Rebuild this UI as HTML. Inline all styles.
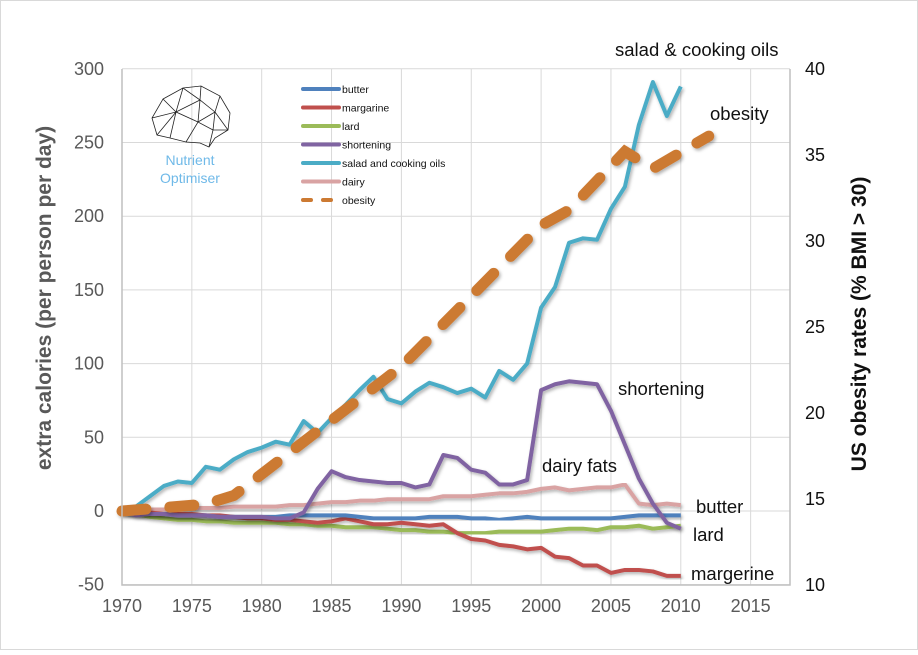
<!DOCTYPE html>
<html><head><meta charset="utf-8"><style>
body{margin:0;background:#fff;}
svg text{font-family:"Liberation Sans",sans-serif;}
</style></head><body>
<svg id="chart" width="918" height="650" xmlns="http://www.w3.org/2000/svg">
<defs><filter id="sh" x="-5%" y="-5%" width="110%" height="110%"><feDropShadow dx="1.5" dy="2" stdDeviation="1.5" flood-color="#000" flood-opacity="0.3"/></filter></defs>
<rect x="0.5" y="0.5" width="917" height="649" fill="#fff" stroke="#d9d9d9"/>
<g id="grid"></g><g id="series"></g><g id="axes"></g>
<g stroke="#222" stroke-width="0.8" fill="none">
<path d="M163,99 L183,88 L201,86 L220,96 L230,113 L228,130 L215,138 L209,147 L200,143 L186,142 L170,138 L157,135 L152,118 Z M163,99 L176,112 L183,88 L200,100 L201,86 M176,112 L200,100 L215,112 L220,96 M215,112 L228,130 M200,100 L198,122 L176,112 L170,138 M198,122 L215,112 L213,130 L198,122 L186,142 M213,130 L228,130 M152,118 L176,112 L157,135 M209,147 L213,130"/>
</g>
<text x="190" y="165" font-size="14" fill="#6fb9e8" text-anchor="middle">Nutrient</text>
<text x="190" y="183" font-size="14" fill="#6fb9e8" text-anchor="middle">Optimiser</text>
<g id="legend"></g>
<g font-size="18.5" fill="#111">
<text x="615" y="56">salad &amp; cooking oils</text>
<text x="710" y="120">obesity</text>
<text x="618" y="395">shortening</text>
<text x="542" y="472">dairy fats</text>
<text x="696" y="513">butter</text>
<text x="693" y="541">lard</text>
<text x="691" y="580">margerine</text>
</g>
<text transform="translate(51,298) rotate(-90)" font-size="21" font-weight="bold" fill="#595959" text-anchor="middle">extra calories (per person per day)</text>
<text transform="translate(866,324) rotate(-90)" font-size="21" font-weight="bold" fill="#111" text-anchor="middle">US obesity rates (% BMI &gt; 30)</text>
</svg>
<script>
const years=[];for(let y=1970;y<=2010;y++)years.push(y);
const butter=[0,-1,-2,-2,-3,-3,-3,-4,-4,-4,-4,-4,-3,-3,-3,-3,-3,-4,-5,-5,-5,-5,-4,-4,-4,-5,-5,-6,-5,-4,-5,-5,-5,-5,-5,-5,-4,-3,-3,-3,-3];
const margarine=[0,-1,-1,-2,-2,-2,-3,-3,-4,-5,-5,-6,-6,-7,-8,-7,-5,-7,-9,-9,-8,-9,-10,-9,-15,-19,-20,-23,-24,-26,-25,-31,-32,-37,-37,-42,-40,-40,-41,-44,-44];
const lard=[0,-2,-4,-5,-6,-6,-7,-7,-8,-8,-8,-8,-9,-9,-10,-10,-11,-11,-11,-12,-13,-13,-14,-14,-15,-15,-15,-14,-14,-14,-14,-13,-12,-12,-13,-11,-11,-10,-12,-11,-10];
const shortening=[0,-3,-2,-2,-3,-3,-3,-4,-4,-4,-4,-5,-5,-1,15,27,23,21,20,19,19,16,18,38,36,28,26,18,18,21,82,86,88,87,86,68,45,22,5,-8,-12];
const salad=[0,3,10,17,20,19,30,28,35,40,43,47,45,61,53,63,72,82,91,76,73,81,87,84,80,83,77,95,89,100,138,152,182,185,184,205,220,262,291,268,288];
const dairy=[0,0,1,1,1,2,2,2,3,3,3,3,4,4,5,6,6,7,7,8,8,8,8,10,10,10,11,12,12,13,15,16,14,15,16,16,18,5,4,5,4];
const obYears=[1970,1976,1978,1990,2000,2002,2006,2008,2012];
const obesity=[14.3,14.7,15.2,22.7,30.9,31.8,35.2,34.2,36.1];
const xTicks=[1970,1975,1980,1985,1990,1995,2000,2005,2010,2015];
const yTicks=[-50,0,50,100,150,200,250,300];
const y2Ticks=[10,15,20,25,30,35,40];
const X=y=>122+(y-1970)*13.97, Y=v=>511-v*1.474, Y2=v=>585-(v-10)*17.2;
const NS="http://www.w3.org/2000/svg";
function mk(t,p,a){const e=document.createElementNS(NS,t);for(const k in a)e.setAttribute(k,a[k]);p.appendChild(e);return e;}
const g=document.getElementById('grid'),ax=document.getElementById('axes'),s=document.getElementById('series'),lg=document.getElementById('legend');
xTicks.forEach(t=>{const l=mk('line',g,{x1:X(t),x2:X(t),y1:69,y2:585,stroke:'#d9d9d9'});


const tx=mk('text',ax,{x:X(t),y:612,'font-size':18,fill:'#595959','text-anchor':'middle'});tx.textContent=t;

});
yTicks.forEach(t=>{const l=mk('line',g,{x1:122,x2:790,y1:Y(t),y2:Y(t),stroke:'#d9d9d9'});


const tx=mk('text',ax,{x:104,y:Y(t)+6,'font-size':18,fill:'#595959','text-anchor':'end'});tx.textContent=t;

});
y2Ticks.forEach(t=>{const tx=mk('text',ax,{x:805,y:Y2(t)+6,'font-size':18,fill:'#111'});tx.textContent=t;

});
const a1=mk('path',ax,{d:'M122,69V585H790V69',fill:'none',stroke:'#bfbfbf','stroke-width':1.5});


const defs=[['butter',butter,'#4f81bd'],['margarine',margarine,'#c0504d'],['lard',lard,'#9bbb59'],['shortening',shortening,'#8064a2'],['salad and cooking oils',salad,'#4bacc6'],['dairy',dairy,'#d9a3a3']];
const order=[5,2,1,0,3,4];
order.forEach(i=>{const [n,d,c]=defs[i];const p=mk('polyline',s,{points:d.map((v,j)=>X(years[j])+','+Y(v)).join(' '),fill:'none',stroke:c,'stroke-width':4,'stroke-linejoin':'round',filter:'url(#sh)'});

});
const ob=mk('polyline',s,{points:obesity.map((v,j)=>X(obYears[j])+','+Y2(v)).join(' '),fill:'none',stroke:'#cc7a33','stroke-width':11,'stroke-linecap':'round','stroke-dasharray':'24 24',filter:'url(#sh)'});


defs.concat([['obesity',null,'#cc7a33']]).forEach((d,i)=>{const y=89+i*18.5;
const l=mk('line',lg,{x1:303,x2:339,y1:y,y2:y,stroke:d[2],'stroke-width':4,'stroke-linecap':'round'});
if(!d[1])l.setAttribute('stroke-dasharray','8 12');


const t=mk('text',lg,{x:342,y:y+4,'font-size':10.5,fill:'#111'});t.textContent=d[0];

});
</script>
</body></html>
